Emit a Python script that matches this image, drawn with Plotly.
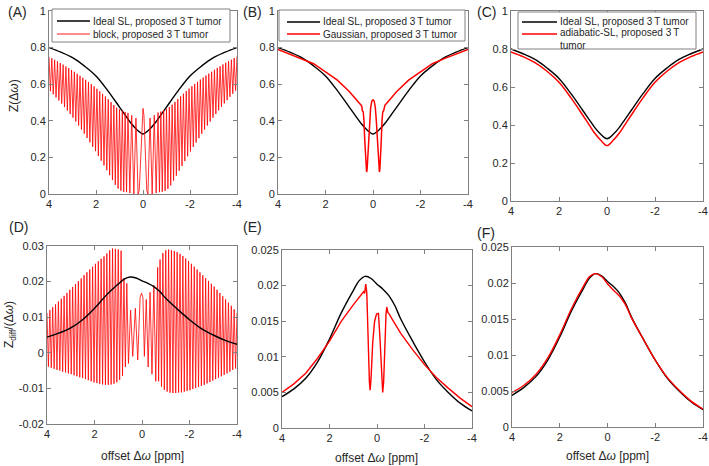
import numpy as np
import plotly.graph_objects as go

# ---------------- data ----------------
# Ideal SL Z-spectrum (black, panels A-C)
z_x = [4, 3.5, 3, 2.5, 2, 1.5, 1, 0.75, 0.5, 0.25, 0, -0.25, -0.5, -0.75, -1, -1.5, -2, -2.5, -3, -3.5, -4]
z_ideal = [0.800, 0.775, 0.745, 0.700, 0.645, 0.565, 0.475, 0.430, 0.385, 0.350, 0.328,
           0.350, 0.385, 0.430, 0.475, 0.565, 0.645, 0.700, 0.745, 0.775, 0.800]
# adiabatic-SL (panel C)
z_adiab = [0.785, 0.760, 0.728, 0.683, 0.625, 0.543, 0.450, 0.402, 0.355, 0.318, 0.292,
           0.318, 0.355, 0.402, 0.450, 0.543, 0.625, 0.683, 0.728, 0.760, 0.785]

# Gaussian (panel B)
gauss_x = [4, 3.5, 3, 2.5, 2, 1.5, 1, 0.75, 0.55, 0.50, 0.47, 0.45, 0.41, 0.38, 0.35, 0.32, 0.29, 0.27,
           0.25, 0.22, 0.18, 0.14, 0.10, 0.05, 0,
           -0.05, -0.10, -0.14, -0.18, -0.22, -0.25, -0.27, -0.29, -0.32, -0.35, -0.38, -0.41, -0.45,
           -0.47, -0.50, -0.55, -0.75, -1, -1.5, -2, -2.5, -3, -3.5, -4]
gauss_z = [0.790, 0.765, 0.740, 0.712, 0.668, 0.622, 0.560, 0.525, 0.492, 0.485, 0.478, 0.455, 0.448, 0.400,
           0.300, 0.200, 0.135, 0.120, 0.130, 0.190, 0.300, 0.400, 0.470, 0.508, 0.515,
           0.508, 0.470, 0.400, 0.300, 0.190, 0.130, 0.120, 0.135, 0.200, 0.300, 0.400, 0.448, 0.455,
           0.478, 0.485, 0.492, 0.525, 0.560, 0.622, 0.668, 0.712, 0.740, 0.765, 0.790]

# block pulse Z (panel A): oscillation maxima / minima
A_L_peaks = [0.750, 0.742, 0.733, 0.725, 0.716, 0.707, 0.697, 0.688, 0.678, 0.668, 0.657, 0.646, 0.635,
             0.624, 0.612, 0.600, 0.588, 0.575, 0.561, 0.547, 0.533, 0.518, 0.502, 0.486, 0.472, 0.462,
             0.455, 0.448, 0.443]
A_L_troughs = [0.562, 0.545, 0.528, 0.511, 0.494, 0.475, 0.456, 0.437, 0.417, 0.396, 0.374, 0.352, 0.330,
               0.306, 0.282, 0.258, 0.234, 0.208, 0.182, 0.156, 0.130, 0.103, 0.076, 0.050, 0.030, 0.018,
               0.012, 0.010]
A_C_x = [0.56, 0.48, 0.39, 0.30, 0.21, 0.16, 0.12, 0.08, 0.04, 0.0, -0.04, -0.08, -0.12, -0.16, -0.21,
         -0.30, -0.39, -0.48, -0.56]
A_C_z = [0.005, 0.430, 0.0, 0.415, 0.0, 0.02, 0.13, 0.31, 0.43, 0.468, 0.43, 0.31, 0.13, 0.02, 0.0,
         0.415, 0.0, 0.43, 0.005]
A_R_peaks = [0.445, 0.450, 0.457, 0.465, 0.475, 0.488, 0.503, 0.519, 0.534, 0.548, 0.562, 0.576, 0.589,
             0.601, 0.613, 0.625, 0.636, 0.647, 0.658, 0.668, 0.679, 0.689, 0.698, 0.708, 0.717, 0.726,
             0.734, 0.743, 0.752]
A_R_troughs = [0.010, 0.012, 0.017, 0.028, 0.047, 0.073, 0.100, 0.127, 0.153, 0.180, 0.206, 0.232, 0.257,
               0.281, 0.305, 0.329, 0.352, 0.374, 0.396, 0.417, 0.437, 0.457, 0.476, 0.495, 0.513, 0.531,
               0.548, 0.565]

# Z_diff ideal (black, panels D-F)
d_x = z_x
d_ideal = [0.0044, 0.0055, 0.0070, 0.0093, 0.0125, 0.0162, 0.0193, 0.0207, 0.0213, 0.0210, 0.0202,
           0.0195, 0.0186, 0.0172, 0.0153, 0.0122, 0.0093, 0.0068, 0.0050, 0.0035, 0.0024]
d_adiab = [0.0048, 0.0058, 0.0073, 0.0096, 0.0128, 0.0165, 0.0196, 0.0209, 0.0213, 0.0209, 0.0199,
           0.0190, 0.0182, 0.0170, 0.0152, 0.0122, 0.0093, 0.0069, 0.0051, 0.0036, 0.0025]

# Gaussian Z_diff (panel E)
dg_x = [4, 3.5, 3, 2.5, 2, 1.5, 1, 0.645, 0.55, 0.52, 0.475, 0.43, 0.38, 0.32, 0.29, 0.25, 0.18, 0.10,
        0.02, -0.06, -0.12, -0.18, -0.24, -0.28, -0.33, -0.38, -0.41, -0.46, -0.52, -0.6, -1.0, -1.5,
        -2, -2.5, -3, -3.5, -4]
dg_z = [0.0050, 0.0062, 0.0077, 0.0098, 0.0122, 0.0150, 0.0173, 0.0189, 0.0192, 0.0189, 0.0202, 0.0190,
        0.0120, 0.0065, 0.0053, 0.0070, 0.0120, 0.0150, 0.0160, 0.0161, 0.0130, 0.0080, 0.0050, 0.0065,
        0.0120, 0.0160, 0.0170, 0.0162, 0.0160, 0.0155, 0.0133, 0.0110, 0.0089, 0.0071, 0.0056, 0.0042,
        0.0030]

# block pulse Z_diff (panel D): oscillation maxima / minima
D_L_peaks = [0.0112, 0.0120, 0.0128, 0.0136, 0.0144, 0.0152, 0.0160, 0.0168, 0.0177, 0.0185, 0.0193,
             0.0201, 0.0209, 0.0218, 0.0226, 0.0234, 0.0242, 0.0250, 0.0257, 0.0264, 0.0271, 0.0279,
             0.0288, 0.0293, 0.0292, 0.0290, 0.0287]
D_L_troughs = [-0.0039, -0.0042, -0.0045, -0.0048, -0.0050, -0.0053, -0.0055, -0.0058, -0.0060, -0.0063,
               -0.0066, -0.0069, -0.0071, -0.0074, -0.0077, -0.0080, -0.0083, -0.0085, -0.0087, -0.0089,
               -0.0090, -0.0090, -0.0089, -0.0087, -0.0083, -0.0076, -0.0065]
D_C_x = [0.76, 0.70, 0.64, 0.57, 0.48, 0.39, 0.28, 0.18, 0.08, 0.02, -0.04, -0.10, -0.18, -0.26, -0.34,
         -0.42, -0.50, -0.58, -0.66]
D_C_z = [0.021, -0.004, 0.0195, -0.003, 0.012, -0.001, 0.0125, -0.002, 0.0155, 0.0168, 0.0155, -0.001,
         0.015, -0.004, 0.017, -0.006, 0.019, -0.008, 0.024]
D_R_troughs = [-0.0080, -0.0095, -0.0104, -0.0109, -0.0112, -0.0113, -0.0113, -0.0112, -0.0111, -0.0109,
               -0.0107, -0.0105, -0.0102, -0.0099, -0.0096, -0.0093, -0.0090, -0.0086, -0.0082, -0.0078,
               -0.0074, -0.0070, -0.0066, -0.0062, -0.0058, -0.0053, -0.0048, -0.0044]
D_R_peaks = [0.0262, 0.0280, 0.0288, 0.0290, 0.0288, 0.0286, 0.0283, 0.0278, 0.0272, 0.0265, 0.0258,
             0.0250, 0.0242, 0.0234, 0.0226, 0.0218, 0.0210, 0.0202, 0.0194, 0.0186, 0.0177, 0.0168,
             0.0159, 0.0150, 0.0141, 0.0132, 0.0122, 0.0112]

x_ticks = [4, 2, 0, -2, -4]
x_ticktext = ["4", "2", "0", "-2", "-4"]
z_ticks = [0, 0.2, 0.4, 0.6, 0.8, 1]
z_ticktext = ["0", "0.2", "0.4", "0.6", "0.8", "1"]
dD_ticks = [-0.02, -0.01, 0, 0.01, 0.02, 0.03]
dD_ticktext = ["-0.02", "-0.01", "0", "0.01", "0.02", "0.03"]
dE_ticks = [0, 0.005, 0.01, 0.015, 0.02, 0.025]
dE_ticktext = ["0", "0.005", "0.01", "0.015", "0.02", "0.025"]

lbl_ideal = "Ideal SL, proposed 3\u2009T tumor"
lbl_block = "block, proposed 3\u2009T tumor"
lbl_gauss = "Gaussian, proposed 3\u2009T tumor"
lbl_adiab = "adiabatic-SL, proposed 3\u2009T<br>tumor"


def interleave(first, second, x_start, x_end):
    """first/second alternate; x is the sampling grid of the listed extrema."""
    n = len(first) + len(second)
    xs = np.linspace(x_start, x_end, n)
    ys = []
    for i in range(n):
        ys.append(first[i // 2] if i % 2 == 0 else second[i // 2])
    return list(xs), ys


# panel A red sequence
axl, ayl = interleave(A_L_peaks, A_L_troughs, 4.00, 0.64)
axr, ayr = interleave(A_R_peaks, A_R_troughs, -0.64, -4.00)
A_x = axl + A_C_x + axr
A_z = ayl + A_C_z + ayr
# panel D red sequence
dxl, dyl = interleave(D_L_peaks, D_L_troughs, 4.00, 0.82)
dxr, dyr = interleave(D_R_troughs, D_R_peaks, -0.70, -4.00)
D_x = dxl + D_C_x + dxr
D_z = dyl + D_C_z + dyr

# ---------------- figure ----------------
W, H = 709, 466
def px(x): return x / W
def py(y): return 1 - y / H

fig = go.Figure()
BLACK = "black"
RED = "rgb(255,0,0)"

panels = {
    # name: (x0, x1, y_top, y_bottom) in pixels
    "A": (49, 237, 11, 194),
    "B": (278, 468, 11, 194),
    "C": (511, 703, 11, 201),
    "D": (47, 237, 246, 424),
    "E": (282, 472, 250, 428),
    "F": (512, 703, 247, 427),
}
order = ["A", "B", "C", "D", "E", "F"]
GRAY = "rgb(128,128,128)"
TXT = "#262626"
FONT = "Liberation Sans, Arial, sans-serif"

for i, name in enumerate(order):
    x0, x1, yt, yb = panels[name]
    k = "" if i == 0 else str(i + 1)
    if name in "ABC":
        yt_v, yt_t, yr = z_ticks, z_ticktext, [0, 1]
    elif name == "D":
        yt_v, yt_t, yr = dD_ticks, dD_ticktext, [-0.02, 0.03]
    else:
        yt_v, yt_t, yr = dE_ticks, dE_ticktext, [0, 0.025]
    common = dict(ticks="inside", ticklen=4, tickcolor=GRAY, showline=True, linecolor=GRAY,
                  linewidth=1, mirror="ticks", showgrid=False, zeroline=False, automargin=False,
                  ticklabeloverflow="allow", tickfont=dict(size=11, color=TXT, family=FONT))
    fig.layout["xaxis" + k] = dict(domain=[px(x0), px(x1)], anchor="y" + k, range=[4, -4],
                                   tickvals=x_ticks, ticktext=x_ticktext, **common)
    fig.layout["yaxis" + k] = dict(domain=[py(yb), py(yt)], anchor="x" + k, range=yr,
                                   tickvals=yt_v, ticktext=yt_t, **common)


def add(x, y, ax, color, width, name=None, shape="linear"):
    k = "" if ax == 1 else str(ax)
    fig.add_trace(go.Scatter(
        x=x, y=y, mode="lines", xaxis="x" + k, yaxis="y" + k,
        line=dict(color=color, width=width, shape=shape, smoothing=1.0 if shape == "spline" else None),
        name=name, showlegend=False, hoverinfo="skip"))

# A
add(z_x, z_ideal, 1, BLACK, 1.4, lbl_ideal, "spline")
add(A_x, A_z, 1, RED, 0.8, lbl_block)
# B
add(z_x, z_ideal, 2, BLACK, 1.4, lbl_ideal, "spline")
add(gauss_x, gauss_z, 2, RED, 1.5, lbl_gauss)
# C
add(z_x, z_ideal, 3, BLACK, 1.4, lbl_ideal, "spline")
add(z_x, z_adiab, 3, RED, 1.5, lbl_adiab, "spline")
# D
add(D_x, D_z, 4, RED, 0.8, lbl_block)
add(d_x, d_ideal, 4, BLACK, 1.4, lbl_ideal, "spline")
# E
add(d_x, d_ideal, 5, BLACK, 1.4, lbl_ideal, "spline")
add(dg_x, dg_z, 5, RED, 1.4, lbl_gauss)
# F
add(d_x, d_ideal, 6, BLACK, 1.4, lbl_ideal, "spline")
add(d_x, d_adiab, 6, RED, 1.4, lbl_adiab, "spline")

# ---- legends (MATLAB-style boxes inside the top panels) ----
shapes = []
ann = []
legends = [
    # box (x0, x1, y0, y1), line x0, x1, text x, entries [(y_line, y_text, color, width, text)]
    ((52, 230, 9, 42), 57, 90, 92,
     [(21, 21, BLACK, 1.4, lbl_ideal), (34, 34, RED, 0.9, lbl_block)]),
    ((279, 465, 10, 41), 287, 320, 322,
     [(22, 22, BLACK, 1.4, lbl_ideal), (34, 34, RED, 1.5, lbl_gauss)]),
    ((518, 696, 12, 49), 522, 557, 559,
     [(22, 22, BLACK, 1.4, lbl_ideal), (34, 39.5, RED, 1.5, lbl_adiab)]),
]
for (bx0, bx1, by0, by1), lx0, lx1, tx, entries in legends:
    shapes.append(dict(type="rect", xref="paper", yref="paper", x0=px(bx0), x1=px(bx1),
                       y0=py(by1), y1=py(by0), fillcolor="white", line=dict(color=GRAY, width=1),
                       layer="above"))
    for yl, ytx, col, wd, txt in entries:
        shapes.append(dict(type="line", xref="paper", yref="paper", x0=px(lx0), x1=px(lx1),
                           y0=py(yl), y1=py(yl), line=dict(color=col, width=wd), layer="above"))
        ann.append(dict(x=px(tx), y=py(ytx), xref="paper", yref="paper", text=txt, showarrow=False,
                        xanchor="left", yanchor="middle", align="left", borderpad=0,
                        font=dict(size=10, color=TXT, family=FONT)))

for name, (cx, cy) in {"A": (17, 12), "B": (252, 12), "C": (486, 12),
                       "D": (18, 227), "E": (252, 227), "F": (486, 233)}.items():
    ann.append(dict(x=px(cx), y=py(cy), xref="paper", yref="paper", text="(" + name + ")",
                    xanchor="center", yanchor="middle",
                    showarrow=False, font=dict(size=14, color=TXT, family=FONT)))
ann.append(dict(x=px(14), y=py(96), xref="paper", yref="paper", text="Z(Δ<i>ω</i>)", textangle=-90,
                xanchor="center", yanchor="middle",
                showarrow=False, font=dict(size=12, color=TXT, family=FONT)))
ann.append(dict(x=px(10), y=py(325), xref="paper", yref="paper",
                text="Z<sub>diff</sub>/(Δ<i>ω</i>)", textangle=-90,
                xanchor="center", yanchor="middle",
                showarrow=False, font=dict(size=12, color=TXT, family=FONT)))
for name, yy in (("D", 456), ("E", 458), ("F", 456)):
    x0, x1, _, _ = panels[name]
    ann.append(dict(x=px((x0 + x1) / 2), y=py(yy), xref="paper", yref="paper",
                    text="offset Δ<i>ω</i> [ppm]", showarrow=False, xanchor="center", yanchor="middle",
                    font=dict(size=12, color=TXT, family=FONT)))

fig.update_layout(width=W, height=H, margin=dict(l=0, r=0, t=0, b=0),
                  paper_bgcolor="white", plot_bgcolor="white", annotations=ann, shapes=shapes,
                  showlegend=False, font=dict(family=FONT, color=TXT))

fig.write_html("out.html", config={"displayModeBar": False},
               post_script="document.body.style.margin='0px';document.body.style.overflow='hidden';")
